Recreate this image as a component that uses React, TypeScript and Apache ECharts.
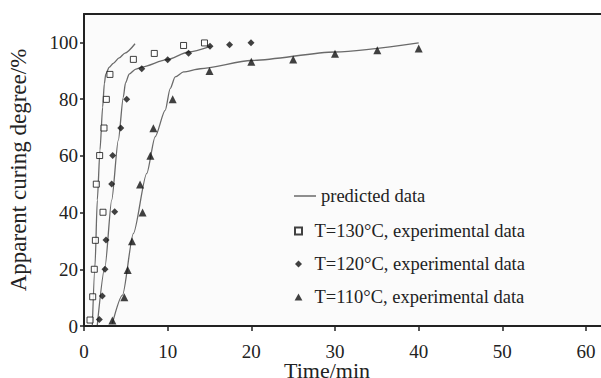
import React, { useEffect, useRef } from "react";
import * as echarts from "echarts";

const xTicks = [0, 10, 20, 30, 40, 50, 60];
const yTicks = [0, 20, 40, 60, 80, 100];

const exp130: number[][] = [
  [0.72, 2.1], [1.04, 10.3], [1.23, 20], [1.36, 30.2], [2.27, 40.1], [1.47, 50],
  [1.87, 60.1], [2.39, 69.8], [2.67, 79.9], [3.1, 88.7], [5.9, 94], [8.4, 96.1],
  [11.9, 98.9], [14.4, 99.8],
];
const exp120: number[][] = [
  [1.83, 2.3], [2.19, 10.6], [2.51, 20], [2.63, 30.3], [3.67, 40.3], [3.31, 50.1],
  [3.43, 60.1], [4.39, 69.8], [5.1, 79.9], [6.9, 90.7], [10.0, 93.9], [12.5, 96.2],
  [15.06, 98.6], [17.4, 99.2], [19.96, 99.9],
];
const exp110: number[][] = [
  [3.39, 1.9], [4.82, 10.1], [5.22, 19.7], [5.74, 29.9], [7.0, 40], [6.7, 49.9],
  [7.93, 60], [8.29, 69.7], [10.6, 79.9], [15.0, 89.9], [20.0, 93.2], [25.0, 94],
  [30.0, 96], [35.06, 97.2], [40.0, 97.8],
];
const pred130: number[][] = [
  [1.0, 0.3], [1.31, 20.9], [1.59, 44.4], [1.91, 62], [2.23, 77.2], [2.43, 85.4],
  [2.6, 88.8], [3.0, 91.2], [3.5, 92.6], [4.2, 94.5], [4.9, 96.2], [6.1, 99.5],
];
const pred120: number[][] = [
  [1.59, 0.35], [2.51, 20.9], [3.31, 44.4], [4.1, 65.5], [4.7, 80.7], [4.95, 85.6],
  [5.4, 88.8], [6.2, 90.6], [6.9, 91.3], [9.9, 93.9], [12.5, 96.6], [15.1, 98.6],
];
const pred110: number[][] = [
  [3.39, 0.9], [4.6, 10.9], [5.9, 32.6], [7.5, 53.8], [8.5, 66.7], [9.7, 76],
  [10.3, 83.7], [10.9, 87.8], [11.9, 89.6], [13.9, 90.7], [20, 93.6], [30, 96.6],
  [40, 99.8],
];

const PRED = "predicted data";
const N130 = "T=130°C, experimental data";
const N120 = "T=120°C, experimental data";
const N110 = "T=110°C, experimental data";

const SQUARE = "path://M0,0H10V10H0Z";
const DIAMOND = "path://M5,0L10,5L5,10L0,5Z";
const TRIANGLE = "path://M5,0L10,9L0,9Z";

export default function App() {
  const ref = useRef<HTMLDivElement>(null);
  useEffect(() => {
    if (!ref.current) return;
    const chart = echarts.init(ref.current, null, { renderer: "svg" });
    const font = "'Liberation Serif', 'Times New Roman', serif";
    const txt = { fontFamily: font, color: "#222" };
    const lineStyle = { color: "#6a6a6a", width: 1.3 };
    const predSeries = [pred130, pred120, pred110].map((d) => ({
      name: PRED,
      type: "line",
      data: d,
      showSymbol: false,
      symbol: "none",
      smooth: 0.25,
      smoothMonotone: "x",
      lineStyle,
      itemStyle: { color: "#6a6a6a" },
      z: 2,
    }));
    const axisLine = { show: true, lineStyle: { color: "#222", width: 2 } };
    chart.setOption({
      animation: false,
      backgroundColor: "#ffffff",
      textStyle: { fontFamily: font },
      grid: {
        left: 84,
        right: -3,
        top: 14,
        bottom: 52,
        containLabel: false,
        outerBoundsMode: "none",
        show: true,
        backgroundColor: "#fbfbfb",
        borderWidth: 0,
      },
      legend: [
        {
          orient: "vertical",
          left: 294,
          top: 186,
          padding: 0,
          itemWidth: 22,
          itemHeight: 1.5,
          icon: "rect",
          itemStyle: { color: "#6a6a6a" },
          textStyle: { ...txt, fontSize: 18.5, lineHeight: 20 },
          data: [PRED],
        },
        {
          orient: "vertical",
          left: 294,
          top: 221,
          padding: 0,
          itemWidth: 22,
          itemHeight: 7,
          itemGap: 13,
          symbolKeepAspect: true,
          textStyle: { ...txt, fontSize: 18.5, lineHeight: 20 },
          data: [
            { name: N130, icon: SQUARE },
            { name: N120, icon: DIAMOND },
            { name: N110, icon: TRIANGLE },
          ],
        },
      ],
      xAxis: [
        {
          type: "value",
          min: 0,
          max: 62.15,
          interval: 10,
          name: "Time/min",
          nameLocation: "middle",
          nameGap: 34,
          nameMoveOverlap: false,
          nameTextStyle: { ...txt, fontSize: 22, lineHeight: 20, padding: [0, 34, 0, 0] },
          splitLine: { show: false },
          axisLine,
          axisTick: { show: true, inside: false, length: 5, lineStyle: { color: "#222", width: 1.5 } },
          axisLabel: {
            ...txt,
            fontSize: 19,
            lineHeight: 18,
            margin: 16,
            showMaxLabel: false,
            formatter: (v: number) => (xTicks.includes(v) ? String(v) : ""),
          },
        },
        {
          type: "value",
          position: "top",
          min: 0,
          max: 62.15,
          interval: 10,
          splitLine: { show: false },
          axisLine,
          axisTick: { show: false },
          axisLabel: { show: false },
        },
      ],
      yAxis: {
        type: "value",
        min: 0,
        max: 110,
        interval: 20,
        name: "Apparent curing degree/%",
        nameLocation: "middle",
        nameGap: 54,
        nameMoveOverlap: false,
        nameTextStyle: { ...txt, fontSize: 23 },
        splitLine: { show: false },
        axisLine,
        axisTick: { show: true, inside: false, length: 4, lineStyle: { color: "#222", width: 1.5 } },
        axisLabel: {
          ...txt,
          fontSize: 19,
          margin: 6,
          showMaxLabel: false,
          formatter: (v: number) => (yTicks.includes(v) ? String(v) : ""),
        },
      },
      series: [
        ...predSeries,
        {
          name: N130,
          type: "scatter",
          data: exp130,
          symbol: "rect",
          symbolSize: 6,
          itemStyle: { color: "#ffffff", borderColor: "#111", borderWidth: 1 },
          z: 3,
        },
        {
          name: N120,
          type: "scatter",
          data: exp120,
          symbol: "diamond",
          symbolSize: 7,
          itemStyle: { color: "#111" },
          z: 3,
        },
        {
          name: N110,
          type: "scatter",
          data: exp110,
          symbol: "triangle",
          symbolSize: 8,
          itemStyle: { color: "#111" },
          z: 3,
        },
      ],
    });
    return () => chart.dispose();
  }, []);
  return <div ref={ref} style={{ width: 601, height: 378, position: "absolute", left: 0, top: 0 }} />;
}
